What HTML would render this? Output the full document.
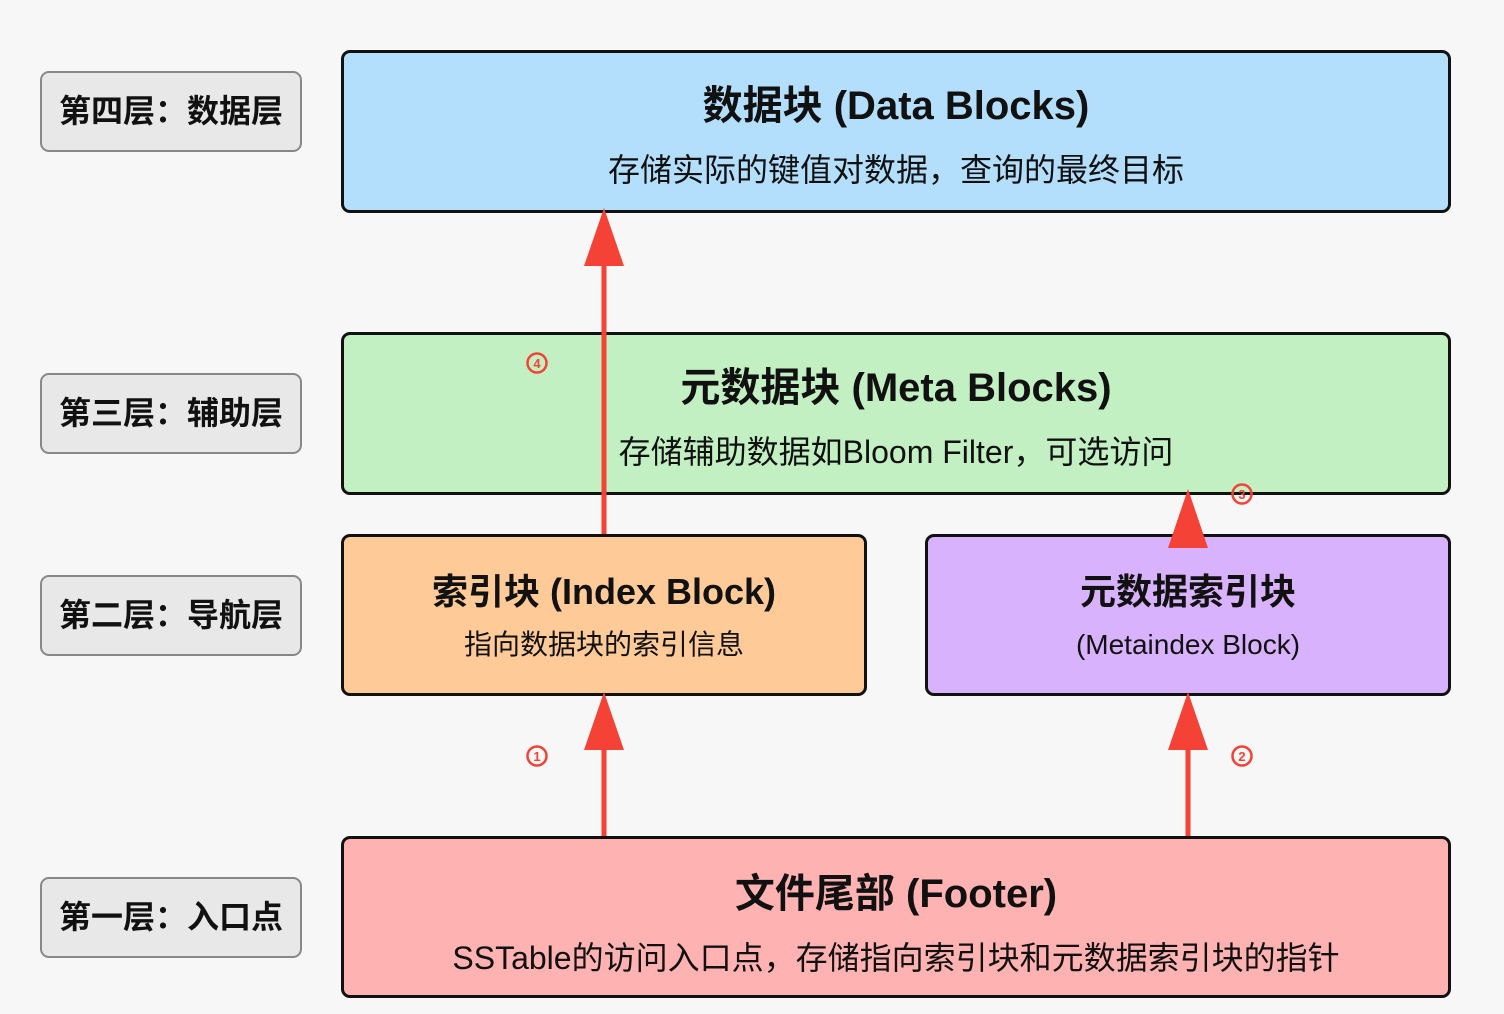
<!DOCTYPE html>
<html><head><meta charset="utf-8"><style>
body{margin:0;width:1504px;height:1014px;background:#f7f7f7;position:relative;overflow:hidden;font-family:"Liberation Sans","Noto Sans CJK SC",sans-serif;color:#111}
.b{position:absolute;box-sizing:border-box;border:3.5px solid #111;border-radius:9px;text-align:center}
.l{position:absolute;left:40px;width:262px;height:81px;box-sizing:border-box;border:2px solid #888;border-radius:9px;background:#e8e8e8;font-size:32px;font-weight:bold;line-height:77px;text-align:center}
.t{position:absolute;left:0;right:0;font-weight:bold;font-size:40px;line-height:48px}
.s{position:absolute;left:0;right:0;font-size:32px;line-height:40px}
</style></head><body>
<div class="l" style="top:71px">第四层：数据层</div>
<div class="l" style="top:373px">第三层：辅助层</div>
<div class="l" style="top:575px">第二层：导航层</div>
<div class="l" style="top:877px">第一层：入口点</div>

<div class="b" style="left:341px;top:50px;width:1110px;height:163px;background:#b3dffd"><div class="t" style="top:29px">数据块 (Data Blocks)</div><div class="s" style="top:97px">存储实际的键值对数据，查询的最终目标</div></div>
<div class="b" style="left:341px;top:332px;width:1110px;height:163px;background:#c3f0c3"><div class="t" style="top:29px">元数据块 (Meta Blocks)</div><div class="s" style="top:97px">存储辅助数据如Bloom Filter，可选访问</div></div>
<div class="b" style="left:341px;top:534px;width:526px;height:162px;background:#fecb98"><div class="t" style="top:33px;font-size:36px;line-height:44px">索引块 (Index Block)</div><div class="s" style="top:90px;font-size:28px;line-height:36px">指向数据块的索引信息</div></div>
<div class="b" style="left:925px;top:534px;width:526px;height:162px;background:#d9b2fd"><div class="t" style="top:33px;font-size:36px;line-height:44px">元数据索引块</div><div class="s" style="top:90px;font-size:28px;line-height:36px">(Metaindex Block)</div></div>
<div class="b" style="left:341px;top:836px;width:1110px;height:162px;background:#feb2b2"><div class="t" style="top:31px">文件尾部 (Footer)</div><div class="s" style="top:99px">SSTable的访问入口点，存储指向索引块和元数据索引块的指针</div></div>

<svg style="position:absolute;left:0;top:0" width="1504" height="1014">
<g fill="#f44336" stroke="#f44336">
<line x1="604" y1="534" x2="604" y2="262" stroke-width="5"/><polygon points="604,208 584,266 624,266" stroke="none"/>
<line x1="1188" y1="536" x2="1188" y2="545" stroke-width="5"/><polygon points="1188,489 1168,548 1208,548" stroke="none"/>
<line x1="604" y1="836" x2="604" y2="745" stroke-width="5"/><polygon points="604,692 584,750 624,750" stroke="none"/>
<line x1="1188" y1="836" x2="1188" y2="745" stroke-width="5"/><polygon points="1188,692 1168,750 1208,750" stroke="none"/>
</g>
<g fill="none" stroke="#f44336" stroke-width="2.5">
<circle cx="537" cy="363" r="9.5"/><circle cx="1242" cy="494" r="9.5"/><circle cx="537" cy="756" r="9.5"/><circle cx="1242" cy="756" r="9.5"/>
</g>
<g fill="#f44336" font-family="Liberation Sans" font-weight="bold" font-size="13" text-anchor="middle">
<text x="537" y="368">4</text><text x="1242" y="499">3</text><text x="537" y="761">1</text><text x="1242" y="761">2</text>
</g>
</svg>
</body></html>
